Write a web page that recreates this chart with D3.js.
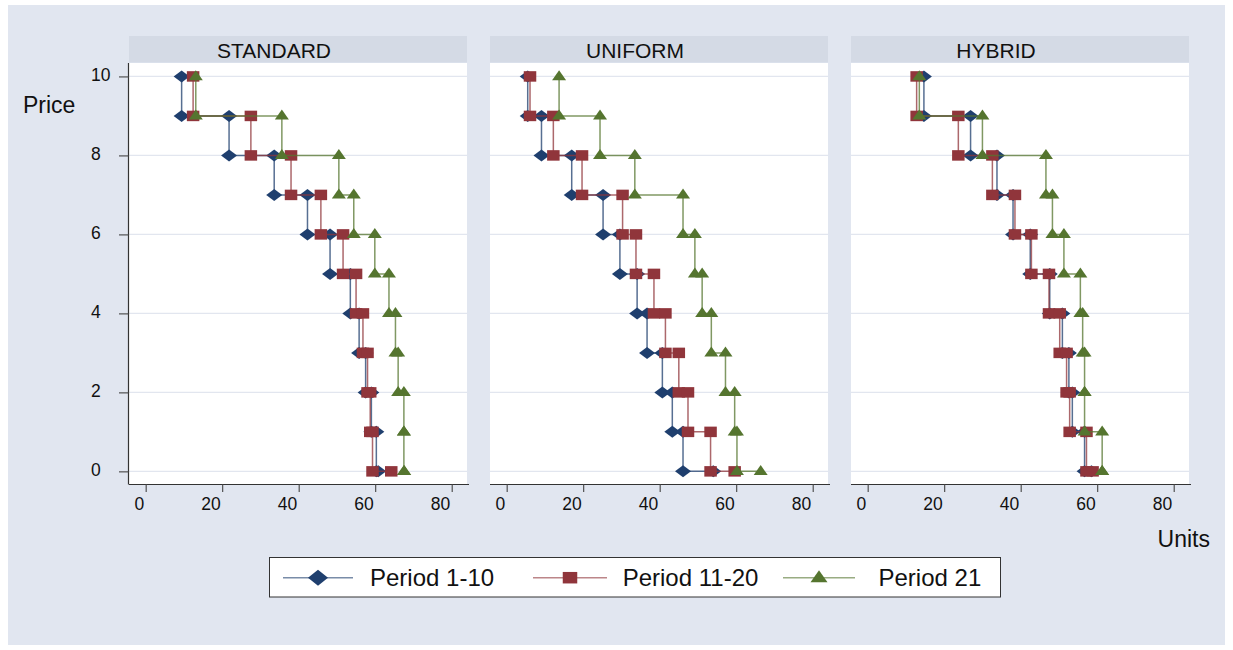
<!DOCTYPE html>
<html>
<head>
<meta charset="utf-8">
<script src="https://cdn.jsdelivr.net/npm/d3@7/dist/d3.min.js"></script>
<style>
  html, body { margin: 0; padding: 0; background: #ffffff; }
  svg { display: block; }
  text { font-family: "Liberation Sans", Arial, Helvetica, sans-serif; fill: #111; }
</style>
</head>
<body>
<svg id="chart" width="1233" height="650"></svg>
<script>
// ---------------- DATA ----------------
const panels = ["STANDARD", "UNIFORM", "HYBRID"];
const seriesNames = ["Period 1-10", "Period 11-20", "Period 21"];
const prices = [10, 9, 8, 7, 6, 5, 4, 3, 2, 1, 0];
const xTicks = [0, 20, 40, 60, 80];
const yTicks = [0, 2, 4, 6, 8, 10];

// quantity (units) offered at each price level, price 10 down to 0
const standardP1  = [9.4, 21.8, 33.6, 42.3, 48.2, 53.5, 55.8, 57.5, 59.0, 60.3, 60.8];
const standardP11 = [12.4, 27.5, 38.0, 45.8, 51.6, 55.0, 56.8, 58.0, 58.7, 59.3, 64.2];
const standardP21 = [13.1, 35.6, 50.5, 54.4, 59.9, 63.6, 65.3, 66.0, 67.5, 67.5, 67.6];

const uniformP1  = [5.5, 9.1, 17.0, 25.2, 29.6, 34.1, 36.7, 40.7, 43.3, 46.1, 54.0];
const uniformP11 = [6.1, 12.2, 19.7, 30.3, 33.8, 38.5, 41.5, 45.0, 47.4, 53.3, 59.6];
const uniformP21 = [13.7, 24.4, 33.5, 46.1, 49.2, 51.1, 53.5, 57.2, 59.6, 60.2, 66.4];

const hybridP1  = [14.7, 26.9, 33.8, 38.0, 42.5, 47.6, 50.9, 52.6, 53.5, 56.7, 58.5];
const hybridP11 = [12.8, 23.7, 32.6, 38.5, 42.8, 47.4, 50.2, 52.0, 52.8, 57.2, 58.8];
const hybridP21 = [13.5, 30.0, 46.6, 48.3, 51.3, 55.6, 56.2, 56.7, 56.7, 61.3, 61.3];

const panelData = [
  [standardP1, standardP11, standardP21],
  [uniformP1, uniformP11, uniformP21],
  [hybridP1, hybridP11, hybridP21]
];

// ---------------- STYLE ----------------
const colors = ["#1f3f6e", "#90353b", "#55752f"];
const shapes = ["diamond", "square", "triangle"];
const bgColor = "#e1e6f0";
const stripColor = "#d4dae5";
const gridColor = "#e2e6ef";

const svg = d3.select("#chart");
svg.append("rect").attr("x", 8).attr("y", 5).attr("width", 1217).attr("height", 640).attr("fill", bgColor);

const panelLeft0 = 129, panelPitch = 361, panelW = 338;
const plotTop = 63, plotBottom = 484;
const stripTop = 36;

const x = d3.scaleLinear().domain([-4.36, 84.0]).range([0, panelW]);
const y = d3.scaleLinear().domain([-0.32, 10.34]).range([plotBottom, plotTop]);

function markerPath(shape, w, h) {
  const a = w / 2, b = h / 2;
  if (shape === "diamond") return `M0,${-b}L${a},0L0,${b}L${-a},0Z`;
  if (shape === "square") return `M${-a},${-b}H${a}V${b}H${-a}Z`;
  // triangle, centroid at origin
  return `M0,${-h * 0.63}L${a},${h * 0.37}L${-a},${h * 0.37}Z`;
}
const markerSize = { diamond: [16, 12], square: [12.5, 10.5], triangle: [14, 10] };
const legendMarkerSize = { diamond: [20, 16], square: [14.5, 11.5], triangle: [17, 12] };

function stepPoints(q) {
  const pts = [];
  prices.forEach((p, i) => {
    if (i > 0) pts.push([q[i - 1], p]);
    pts.push([q[i], p]);
  });
  return pts;
}

panels.forEach((name, pi) => {
  const left = panelLeft0 + pi * panelPitch;
  const g = svg.append("g").attr("transform", `translate(${left},0)`);

  // strip
  g.append("rect").attr("x", 0).attr("y", stripTop).attr("width", panelW).attr("height", plotTop - stripTop - 0.5).attr("fill", stripColor);
  g.append("text").attr("x", panelW / 2 - 24).attr("y", 57.5).attr("text-anchor", "middle")
    .attr("font-size", 21).text(name);

  // plot background
  g.append("rect").attr("x", 0).attr("y", plotTop).attr("width", panelW).attr("height", plotBottom - plotTop).attr("fill", "#ffffff");

  // gridlines
  g.selectAll(".grid").data(yTicks).join("line")
    .attr("x1", 0).attr("x2", panelW)
    .attr("y1", d => y(d)).attr("y2", d => y(d))
    .attr("stroke", gridColor).attr("stroke-width", 1.2);

  // x axis
  const xAxis = d3.axisBottom(x).tickValues(xTicks).tickSize(8).tickSizeOuter(0).tickFormat(d3.format("d"));
  const xa = g.append("g").attr("transform", `translate(0,${plotBottom})`).call(xAxis);
  xa.attr("font-size", null).attr("font-family", null);
  xa.select(".domain").attr("stroke", "#333").attr("stroke-width", 1.2).attr("d", `M0,0.5H${panelW + 2}`);
  xa.selectAll(".tick line").attr("stroke", "#444").attr("stroke-width", 1.1);
  xa.selectAll(".tick text").style("font-size", "17.5px").attr("fill", "#111")
    .attr("text-anchor", "end").attr("dx", -2).attr("y", 14).attr("dy", "0.71em");

  if (pi === 0) {
    const yAxis = d3.axisLeft(y).tickValues(yTicks).tickSize(10).tickSizeOuter(0).tickFormat(d3.format("d"));
    const ya = g.append("g").call(yAxis);
    ya.attr("font-size", null).attr("font-family", null);
    ya.select(".domain").attr("stroke", "#333").attr("stroke-width", 1.2).attr("d", `M-0.5,${plotTop}V${plotBottom + 0.5}`);
    ya.selectAll(".tick line").attr("stroke", "#444").attr("stroke-width", 1.1);
    ya.selectAll(".tick text").style("font-size", "17.5px").attr("fill", "#111")
      .attr("text-anchor", "start").attr("x", 91 - left).attr("dy", "0.22em");
  }

  // series
  const line = d3.line().x(d => x(d[0])).y(d => y(d[1]));
  panelData[pi].forEach((q, si) => {
    const pts = stepPoints(q);
    g.append("path").attr("d", line(pts)).attr("fill", "none")
      .attr("stroke", colors[si]).attr("stroke-width", 1.5).attr("stroke-opacity", 0.75);
    const [mw, mh] = markerSize[shapes[si]];
    g.selectAll(`.m${si}`).data(pts).join("path")
      .attr("transform", d => `translate(${x(d[0])},${y(d[1])})`)
      .attr("d", markerPath(shapes[si], mw, mh))
      .attr("fill", colors[si]);
  });
});

// axis titles
svg.append("text").attr("x", 23).attr("y", 112.7).attr("font-size", 23).text("Price");
svg.append("text").attr("x", 1210).attr("y", 547).attr("text-anchor", "end").attr("font-size", 23).text("Units");

// legend
const legend = svg.append("g");
legend.append("rect").attr("x", 269.5).attr("y", 557.5).attr("width", 731).attr("height", 39.5)
  .attr("fill", "#ffffff").attr("stroke", "#333").attr("stroke-width", 1);
const legendItems = [
  { x1: 283, x2: 353, text: 370 },
  { x1: 533, x2: 607, text: 622.7 },
  { x1: 783, x2: 855, text: 878.5 }
];
const legY = 577.7;
seriesNames.forEach((nm, si) => {
  const it = legendItems[si];
  legend.append("line").attr("x1", it.x1).attr("x2", it.x2).attr("y1", legY).attr("y2", legY)
    .attr("stroke", colors[si]).attr("stroke-width", 1.6).attr("stroke-opacity", 0.6);
  const [mw, mh] = legendMarkerSize[shapes[si]];
  legend.append("path").attr("transform", `translate(${(it.x1 + it.x2) / 2},${legY})`)
    .attr("d", markerPath(shapes[si], mw, mh)).attr("fill", colors[si]);
  legend.append("text").attr("x", it.text).attr("y", 586).attr("font-size", 24).text(nm);
});
</script>
</body>
</html>
